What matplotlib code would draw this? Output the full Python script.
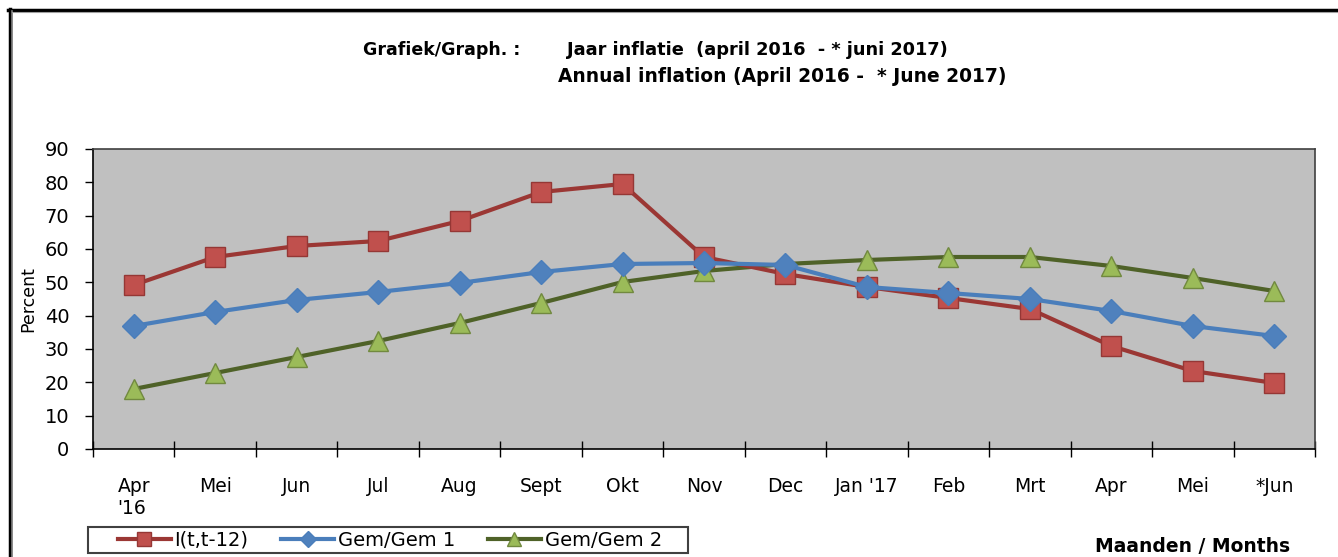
import matplotlib
matplotlib.use("Agg")
import matplotlib.pyplot as plt
from matplotlib.lines import Line2D
from matplotlib.patches import Rectangle
import numpy as np

categories = ["Apr\n'16", "Mei", "Jun", "Jul", "Aug", "Sept", "Okt", "Nov", "Dec",
              "Jan '17", "Feb", "Mrt", "Apr", "Mei", "*Jun"]
i_t_t12 = [49.2, 57.6, 60.9, 62.4, 68.4, 77.1, 79.5, 57.6, 52.5, 48.6, 45.3, 42.0, 30.9, 23.4, 19.8]
gem1 = [36.9, 41.1, 44.7, 47.1, 49.8, 53.1, 55.5, 55.8, 55.2, 48.6, 46.8, 45.0, 41.4, 36.9, 33.9]
gem2 = [18.0, 22.8, 27.6, 32.4, 37.8, 43.8, 50.1, 53.4, 55.5, 56.7, 57.6, 57.6, 54.9, 51.3, 47.4]
yticks = list(range(0, 91, 10))

W, H = 1338, 557
plt.rcParams['font.family'] = ['DejaVu Sans']
fig = plt.figure(figsize=(W / 100, H / 100), dpi=100)

ax = fig.add_axes([93 / W, 1 - 449 / H, (1315 - 93) / W, (449 - 149) / H])
ax.set_facecolor('#C0C0C0')
x = np.arange(len(categories))

ax.plot(x, i_t_t12, color='#9B3734', lw=3, marker='s', ms=14,
        mfc='#C0504D', mec='#953735', mew=1, label='I(t,t-12)', zorder=3)
ax.plot(x, gem1, color='#4A7EBB', lw=3, marker='D', ms=12,
        mfc='#4F81BD', mec='#4A7EBB', mew=1, label='Gem/Gem 1', zorder=4)
ax.plot(x, gem2, color='#4F6228', lw=3, marker='^', ms=15,
        mfc='#9BBB59', mec='#71893F', mew=1, label='Gem/Gem 2', zorder=2)

ax.set_xlim(-0.5, len(categories) - 0.5)
ax.set_ylim(0, 90)
ax.set_yticks(yticks)
ax.set_yticklabels([str(v) for v in yticks], fontsize=14)
ax.set_xticks(np.arange(-0.5, len(categories), 1.0))
ax.set_xticklabels([])
ax.set_xticks(x, minor=True)
ax.set_xticklabels(categories, minor=True, fontsize=13.5)
ax.tick_params(axis='x', which='major', direction='inout', length=12, width=1, color='black')
ax.tick_params(axis='x', which='minor', length=0, pad=20)
ax.tick_params(axis='y', direction='out', length=6, width=1, color='black', pad=11)
for lbl in ax.get_xticklabels(minor=True):
    lbl.set_verticalalignment('top')
first = ax.get_xticklabels(minor=True)[0]
first.set_multialignment('left')

for s in ['top', 'right']:
    ax.spines[s].set_color('#404040')
    ax.spines[s].set_linewidth(1.2)
for s in ['left', 'bottom']:
    ax.spines[s].set_color('black')
    ax.spines[s].set_linewidth(1.2)

ax.set_ylabel('Percent', fontsize=12.5)
ax.yaxis.set_label_coords(-0.046, 0.5)

# Title
fig.text(363 / W, 1 - 50 / H, 'Grafiek/Graph. :', fontsize=12.5, fontweight='bold', va='center', ha='left')
fig.text(567 / W, 1 - 50 / H, 'Jaar inflatie  (april 2016  - * juni 2017)', fontsize=12.8,
         fontweight='bold', va='center', ha='left')
fig.text(558 / W, 1 - 76 / H, 'Annual inflation (April 2016 -  * June 2017)', fontsize=13.4,
         fontweight='bold', va='center', ha='left')

fig.text(1290 / W, 1 - 546 / H, 'Maanden / Months', fontsize=13.5, fontweight='bold',
         va='center', ha='right')

# Legend
handles = [
    Line2D([], [], color='#9B3734', lw=3, marker='s', ms=10, mfc='#C0504D', mec='#953735'),
    Line2D([], [], color='#4A7EBB', lw=3, marker='D', ms=8, mfc='#4F81BD', mec='#4A7EBB'),
    Line2D([], [], color='#4F6228', lw=3, marker='^', ms=10, mfc='#9BBB59', mec='#71893F'),
]
leg = fig.legend(handles, ['I(t,t-12)', 'Gem/Gem 1', 'Gem/Gem 2'], ncol=3,
                 loc='center left', bbox_to_anchor=(118 / W, 1 - 540 / H),
                 frameon=False, fontsize=14, handlelength=2.7,
                 columnspacing=1.7, handletextpad=0.2, borderpad=0.0,
                 borderaxespad=0)
fig.add_artist(Rectangle((88 / W, 1 - 553 / H), (688 - 88) / W, (553 - 527) / H,
                         transform=fig.transFigure, fill=False, edgecolor='#404040', lw=1.5))

# Figure frame lines (top and left)
fig.add_artist(Line2D([8 / W, 1.0], [1 - 9.5 / H, 1 - 9.5 / H], color='black', lw=2.5))
fig.add_artist(Line2D([9.5 / W, 9.5 / W], [0, 1 - 8.5 / H], color='black', lw=2.5))
fig.add_artist(Line2D([12 / W, 12 / W], [0, 1 - 11 / H], color='#808080', lw=1.2))
fig.add_artist(Line2D([12 / W, 1.0], [1 - 11.5 / H, 1 - 11.5 / H], color='#A0A0A0', lw=0.8))

fig.savefig('out.png', dpi=100)
